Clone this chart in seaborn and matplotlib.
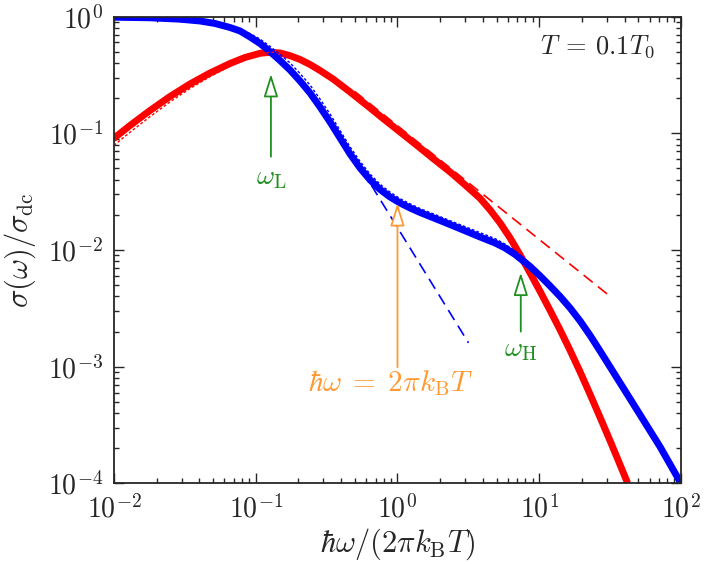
import matplotlib
matplotlib.use("Agg")
import matplotlib.pyplot as plt
import seaborn as sns

# thick red curve
red_x = [0.0100, 0.01297, 0.01796, 0.02485, 0.03439, 0.04759, 0.06587, 0.08405,
         0.1073, 0.1262, 0.1484, 0.1746, 0.2054, 0.2416, 0.2842, 0.3512, 0.4628,
         0.6102, 0.7911, 1.043, 1.375, 1.783, 2.351, 3.000, 3.827, 4.503, 5.299,
         6.233, 7.333, 8.626, 10.15, 11.94, 14.05, 16.52, 19.44, 22.87, 26.90,
         31.65, 37.23, 41.72]
red_y = [0.0906, 0.1166, 0.1568, 0.2066, 0.2646, 0.3286, 0.3963, 0.4462, 0.4847,
         0.4944, 0.4876, 0.4624, 0.4289, 0.3886, 0.3452, 0.2919, 0.2259, 0.1730,
         0.1339, 0.1026, 0.0786, 0.0608, 0.0466, 0.0361, 0.0277, 0.02203,
         0.01703, 0.01267, 0.00906, 0.00635, 0.00441, 0.00303, 0.00206,
         0.001377, 0.000901, 0.000578, 0.000367, 0.000231, 0.0001438, 0.0001028]

# thin dotted red curve
red_dot_x = red_x[:29]
red_dot_y = [0.0788, 0.1020, 0.1388, 0.1859, 0.2421, 0.3056, 0.3765, 0.4328,
             0.4799, 0.4944, 0.4925, 0.4716, 0.4418, 0.4041, 0.3607, 0.3065,
             0.2383, 0.1834, 0.1419, 0.1088, 0.0833, 0.0641, 0.0489, 0.0377,
             0.0288, 0.0228, 0.01754, 0.01292, 0.00915]

# red dashed asymptote
red_dash_x = [0.5, 32.7]
red_dash_y = [0.228, 0.00388]

# thick blue curve
blue_x = [0.0100, 0.01796, 0.02922, 0.04045, 0.05161, 0.06587, 0.07746, 0.09116,
          0.1073, 0.1262, 0.1484, 0.1746, 0.2054, 0.2416, 0.2842, 0.3345,
          0.3934, 0.4628, 0.5445, 0.6405, 0.7536, 0.8867, 1.043, 1.227, 1.444,
          1.842, 2.351, 3.000, 3.827, 4.885, 5.745, 6.761, 8.626, 10.15, 11.94,
          14.05, 16.52, 19.44, 22.87, 26.90, 37.23, 51.54, 71.33, 100.0]
blue_y = [0.988, 0.9766, 0.9500, 0.9168, 0.8727, 0.8063, 0.7527, 0.6686, 0.5881,
          0.5004, 0.4205, 0.3486, 0.2806, 0.2215, 0.1680, 0.1250, 0.0912,
          0.0665, 0.0504, 0.0399, 0.0330, 0.02845, 0.02527, 0.02291, 0.02096,
          0.01862, 0.01651, 0.01461, 0.01292, 0.01148, 0.01040, 0.00915,
          0.00722, 0.00599, 0.00491, 0.00399, 0.00318, 0.00246, 0.00185,
          0.00136, 0.000725, 0.000386, 0.000205, 0.0001]

# thin dotted blue curve
blue_dot_x = blue_x[:37]
blue_dot_y = [0.988, 0.9766, 0.9548, 0.926, 0.890, 0.8345, 0.790, 0.715, 0.641,
              0.555, 0.475, 0.401, 0.3255, 0.259, 0.1966, 0.1463, 0.1058,
              0.0765, 0.0575, 0.0447, 0.0366, 0.0313, 0.02754, 0.02486,
              0.02264, 0.02011, 0.01783, 0.01585, 0.01408, 0.01251, 0.01123,
              0.00979, 0.00765, 0.00629, 0.00516, 0.00415, 0.00328]

# blue dashed asymptote
blue_dash_x = [0.35, 3.17]
blue_dash_y = [0.123, 0.0016]

# annotations: arrow x, tip y, tail y, label x, label y, label, colour, size
green = "#1f8f1f"
orange = "#ff9933"
arrows = [
    (0.128, 0.322, 0.063, 0.128, 0.0414, r"$\omega_{\mathrm{L}}$", green, 20),
    (1.0, 0.0252, 0.00099, 0.90, 0.00072,
     r"$\hbar\omega\;=\;2\pi k_{\mathrm{B}}T$", orange, 21),
    (7.41, 0.00639, 0.0020, 7.41, 0.00139, r"$\omega_{\mathrm{H}}$", green, 20),
]

sns.set_style("ticks")
plt.rcParams["font.family"] = ["cmr10"]
plt.rcParams["mathtext.fontset"] = "cm"
plt.rcParams["axes.formatter.use_mathtext"] = True
plt.rcParams["font.size"] = 20

fig = plt.figure(figsize=(7.07, 5.64), dpi=100)
ax = fig.add_axes([0.1612, 0.1429, 0.8020, 0.8277])

dash = (0, (7, 4))
dot = (0, (2, 1.5))
sns.lineplot(x=red_dash_x, y=red_dash_y, ax=ax, color="red", lw=1.2, linestyle=dash)
sns.lineplot(x=blue_dash_x, y=blue_dash_y, ax=ax, color="blue", lw=1.2, linestyle=dash)
sns.lineplot(x=red_x, y=red_y, ax=ax, color="red", lw=5, sort=False)
sns.lineplot(x=blue_x, y=blue_y, ax=ax, color="blue", lw=5, sort=False)
sns.lineplot(x=red_dot_x, y=red_dot_y, ax=ax, color="red", lw=1.0, linestyle=dot, sort=False)
sns.lineplot(x=blue_dot_x, y=blue_dot_y, ax=ax, color="blue", lw=1.0, linestyle=dot, sort=False)

ax.set_xscale("log")
ax.set_yscale("log")
ax.set_xlim(1e-2, 1e2)
ax.set_ylim(1e-4, 1e0)

for x, tip, tail, lx, ly, label, col, fs in arrows:
    ax.annotate("", xy=(x, tip), xytext=(x, tail),
                arrowprops=dict(arrowstyle="-|>,head_length=0.7,head_width=0.22",
                                mutation_scale=20, fc="white", ec=col, lw=1.3,
                                shrinkA=0, shrinkB=0))
    ax.text(lx, ly, label, color=col, ha="center", va="center", fontsize=fs)

ax.text(0.954, 0.935, r"$T \:=\: 0.1T_0$", transform=ax.transAxes,
        ha="right", va="center", fontsize=19)

ax.set_xlabel(r"$\hbar\omega/(2\pi k_{\mathrm{B}}T)$", fontsize=22, va="top")
ax.set_ylabel(r"$\sigma(\omega)/\sigma_{\mathrm{dc}}$", fontsize=22)
ax.xaxis.set_label_coords(0.5, -0.092)
ax.yaxis.set_label_coords(-0.134, 0.5)

ax.tick_params(which="both", direction="in", top=True, right=True, width=1.0)
ax.tick_params(which="major", length=7, labelsize=20, pad=8)
ax.tick_params(which="minor", length=3.5)
for s in ax.spines.values():
    s.set_linewidth(1.3)

fig.savefig("out.png", dpi=100)
